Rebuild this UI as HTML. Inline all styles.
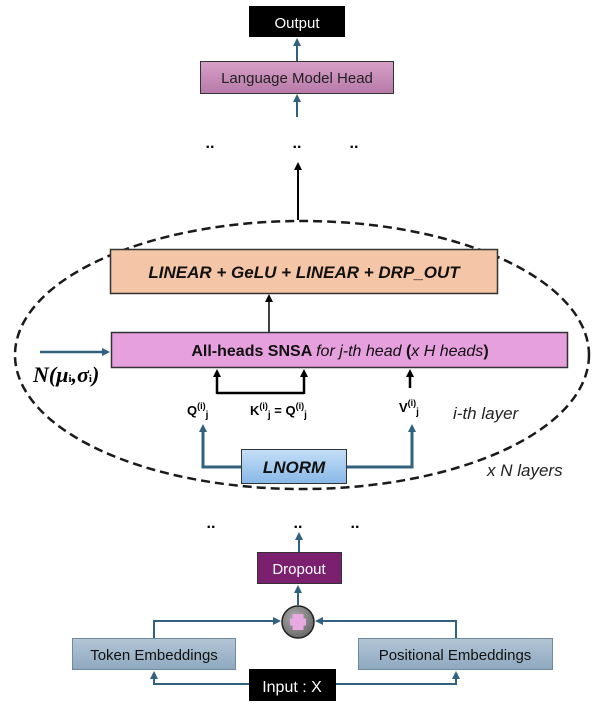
<!DOCTYPE html>
<html><head><meta charset="utf-8"><style>
html,body{margin:0;padding:0;background:#fff;}
svg{display:block;}
text{font-family:"Liberation Sans",sans-serif;}
</style></head><body>
<svg width="607" height="712" viewBox="0 0 607 712" xmlns="http://www.w3.org/2000/svg">
<defs>
<marker id="ab" markerWidth="8" markerHeight="8" refX="4" refY="4" orient="auto" markerUnits="userSpaceOnUse"><path d="M0,0 L8,4 L0,8 z" fill="#000"/></marker>
<marker id="abl" markerWidth="8" markerHeight="8" refX="4" refY="4" orient="auto" markerUnits="userSpaceOnUse"><path d="M0,0 L8,4 L0,8 z" fill="#31617f"/></marker>
<linearGradient id="lm" x1="0" y1="0" x2="0" y2="1"><stop offset="0" stop-color="#d6a0c8"/><stop offset="1" stop-color="#b87aa8"/></linearGradient>
<linearGradient id="ln" x1="0" y1="0" x2="0" y2="1"><stop offset="0" stop-color="#c4def6"/><stop offset="1" stop-color="#88b8e8"/></linearGradient>
<linearGradient id="em" x1="0" y1="0" x2="0" y2="1"><stop offset="0" stop-color="#b3c6d6"/><stop offset="1" stop-color="#8ea8bf"/></linearGradient>
<radialGradient id="pc" cx="0.4" cy="0.35" r="0.7"><stop offset="0" stop-color="#aaa"/><stop offset="1" stop-color="#666"/></radialGradient>
</defs>

<!-- top -->
<rect x="249" y="6" width="96" height="31" fill="#000"/>
<text x="297" y="28" font-size="15" fill="#fff" text-anchor="middle">Output</text>
<line x1="297" y1="61" x2="297" y2="42" stroke="#31617f" stroke-width="2" marker-end="url(#abl)"/>
<rect x="200.5" y="61.5" width="193" height="32" fill="url(#lm)" stroke="#333"/>
<text x="297" y="83" font-size="15" fill="#222" text-anchor="middle">Language Model Head</text>
<line x1="297" y1="117" x2="297" y2="98" stroke="#31617f" stroke-width="2" marker-end="url(#abl)"/>
<text x="210" y="148" font-size="16" font-weight="bold" text-anchor="middle">..</text>
<text x="297" y="148" font-size="16" font-weight="bold" text-anchor="middle">..</text>
<text x="354" y="148" font-size="16" font-weight="bold" text-anchor="middle">..</text>
<line x1="298" y1="220" x2="298" y2="166" stroke="#000" stroke-width="2" marker-end="url(#ab)"/>

<!-- ellipse -->
<ellipse cx="302" cy="355" rx="287" ry="134" fill="none" stroke="#1a1a1a" stroke-width="2.5" stroke-dasharray="9,5"/>

<rect x="110.5" y="249.5" width="387" height="44" fill="#f5c5a7" stroke="#333" stroke-width="1.5"/>
<text x="304" y="278" font-size="17" font-weight="bold" font-style="italic" fill="#111" text-anchor="middle">LINEAR + GeLU + LINEAR + DRP_OUT</text>
<line x1="269" y1="332" x2="269" y2="298" stroke="#000" stroke-width="1.5" marker-end="url(#ab)"/>

<rect x="111.5" y="332.5" width="456" height="35" fill="#e6a0de" stroke="#333" stroke-width="1.5"/>
<text x="340" y="356" font-size="16" fill="#111" text-anchor="middle"><tspan font-weight="bold">All-heads SNSA </tspan><tspan font-style="italic">for j-th head </tspan><tspan font-weight="bold">(</tspan><tspan font-style="italic">x H heads</tspan><tspan font-weight="bold">)</tspan></text>

<line x1="40" y1="352" x2="106" y2="352" stroke="#31617f" stroke-width="2.5" marker-end="url(#abl)"/>
<text x="33" y="382" font-size="22" font-weight="bold" font-style="italic" font-family="Liberation Serif, serif" style="font-family:'Liberation Serif',serif">N(μ<tspan font-size="11" font-style="normal">i</tspan>,σ<tspan font-size="11" font-style="normal">i</tspan>)</text>

<polyline points="217,393 304,393" fill="none" stroke="#000" stroke-width="2.5"/>
<line x1="217" y1="394" x2="217" y2="373" stroke="#000" stroke-width="2.5" marker-end="url(#ab)"/>
<line x1="304" y1="394" x2="304" y2="373" stroke="#000" stroke-width="2.5" marker-end="url(#ab)"/>
<line x1="410" y1="388" x2="410" y2="373" stroke="#000" stroke-width="2.5" marker-end="url(#ab)"/>

<text x="187" y="415" font-size="13" font-weight="bold">Q<tspan font-size="9" dy="-6">(i)</tspan><tspan font-size="10" dy="9">j</tspan></text>
<text x="250" y="415" font-size="13" font-weight="bold">K<tspan font-size="9" dy="-6">(i)</tspan><tspan font-size="10" dy="9">j</tspan><tspan dy="-3"> = Q</tspan><tspan font-size="9" dy="-6">(i)</tspan><tspan font-size="10" dy="9">j</tspan></text>
<text x="399" y="412" font-size="13" font-weight="bold">V<tspan font-size="9" dy="-6">(i)</tspan><tspan font-size="10" dy="9">j</tspan></text>
<text x="453" y="419" font-size="17" font-style="italic" fill="#222">i-th layer</text>
<text x="487" y="476" font-size="17" font-style="italic" fill="#222">x N layers</text>

<polyline points="241,467 203,467 203,428" fill="none" stroke="#31617f" stroke-width="3" marker-end="url(#abl)"/>
<polyline points="347,467 412,467 412,428" fill="none" stroke="#31617f" stroke-width="3" marker-end="url(#abl)"/>
<rect x="241.5" y="449.5" width="105" height="34" fill="url(#ln)" stroke="#333" stroke-width="1"/>
<text x="294" y="473" font-size="17" font-weight="bold" font-style="italic" fill="#111" text-anchor="middle">LNORM</text>

<!-- bottom -->
<text x="211" y="528" font-size="16" font-weight="bold" text-anchor="middle">..</text>
<text x="298" y="528" font-size="16" font-weight="bold" text-anchor="middle">..</text>
<text x="355" y="528" font-size="16" font-weight="bold" text-anchor="middle">..</text>
<line x1="299" y1="552" x2="299" y2="536" stroke="#31617f" stroke-width="2" marker-end="url(#abl)"/>
<rect x="257.5" y="552.5" width="84" height="31" fill="#7a206f" stroke="#333"/>
<text x="299" y="574" font-size="15" fill="#fff" text-anchor="middle">Dropout</text>
<line x1="298" y1="605" x2="298" y2="589" stroke="#31617f" stroke-width="2" marker-end="url(#abl)"/>
<circle cx="298" cy="622" r="16" fill="url(#pc)" stroke="#222" stroke-width="1.5"/>
<rect x="292.5" y="614" width="11" height="16" fill="#e8a8e0"/>
<rect x="290" y="618.5" width="16" height="7" fill="#e8a8e0"/>
<polyline points="154,638 154,621 277,621" fill="none" stroke="#31617f" stroke-width="2" marker-end="url(#abl)"/>
<polyline points="456,638 456,621 319,621" fill="none" stroke="#31617f" stroke-width="2" marker-end="url(#abl)"/>
<rect x="72.5" y="638.5" width="163" height="31" fill="url(#em)" stroke="#6f8aa0"/>
<text x="154" y="660" font-size="15" fill="#111" text-anchor="middle">Token Embeddings</text>
<rect x="358.5" y="638.5" width="194" height="31" fill="url(#em)" stroke="#6f8aa0"/>
<text x="455" y="660" font-size="15" fill="#111" text-anchor="middle">Positional Embeddings</text>
<polyline points="249,684 154,684 154,675" fill="none" stroke="#31617f" stroke-width="2" marker-end="url(#abl)"/>
<polyline points="336,684 456,684 456,675" fill="none" stroke="#31617f" stroke-width="2" marker-end="url(#abl)"/>
<rect x="249" y="669" width="87" height="32" fill="#000"/>
<text x="292" y="692" font-size="16" fill="#fff" text-anchor="middle">Input : X</text>
</svg>
</body></html>
